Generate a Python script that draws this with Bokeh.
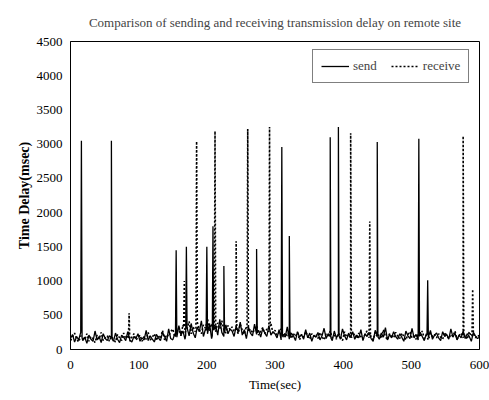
import numpy as np
from bokeh.plotting import figure
from bokeh.models import Range1d, Legend, LegendItem, FixedTicker
from bokeh.embed import file_html
from bokeh.resources import INLINE

# ---------------- data ----------------
title_text = "Comparison of sending and receiving transmission delay on remote site"
base_t = list(range(0, 601, 3))  # seconds
send_base = [160, 220, 110, 190, 140, 250, 130, 180, 90, 210, 150, 120, 270, 140, 190, 100, 230, 160, 130, 200,
             170, 120, 240, 150, 100, 210, 180, 130, 260, 140, 110, 190, 160, 230, 120, 170, 140, 280, 130, 200,
             150, 110, 220, 170, 130, 250, 190, 120, 300, 160, 140, 230, 180, 350, 210, 270, 150, 320, 200, 380,
             240, 170, 330, 260, 420, 190, 300, 230, 380, 160, 280, 350, 210, 440, 250, 190, 360, 230, 300, 270,
             190, 340, 250, 400, 210, 290, 160, 330, 240, 200, 370, 220, 280, 180, 310, 240, 190, 350, 210, 260,
             230, 170, 290, 140, 220, 180, 330, 150, 240, 200, 130, 260, 180, 220, 150, 290, 170, 240, 120, 210,
             180, 250, 140, 200, 310, 160, 230, 190, 130, 270, 170, 220, 150, 300, 200, 140, 240, 180, 260, 150,
             210, 170, 290, 130, 230, 190, 250, 160, 120, 280, 200, 150, 240, 180, 320, 140, 220, 170, 260, 190,
             150, 230, 180, 120, 270, 200, 160, 310, 170, 220, 140, 250, 190, 130, 230, 180, 280, 150, 210, 240,
             170, 130, 260, 190, 220, 150, 300, 180, 240, 140, 210, 170, 270, 160, 230, 190, 120, 250, 200, 160,
             180]
recv_base = [130, 180, 240, 150, 110, 200, 170, 140, 230, 120, 190, 160, 100, 210, 150, 250, 130, 170, 200, 120,
             190, 150, 110, 220, 170, 130, 240, 160, 200, 120, 180, 230, 140, 170, 210, 120, 190, 150, 250, 140,
             180, 230, 130, 200, 160, 280, 140, 220, 190, 260, 300, 180, 240, 310, 200, 360, 250, 300, 410, 230,
             330, 260, 400, 290, 230, 360, 310, 450, 270, 380, 320, 260, 390, 300, 420, 280, 240, 350, 290, 330,
             260, 310, 230, 370, 280, 220, 340, 260, 300, 240, 290, 350, 210, 270, 320, 230, 300, 260, 380, 240,
             280, 210, 250, 300, 180, 240, 200, 270, 160, 230, 190, 250, 140, 220, 180, 260, 200, 150, 230, 190,
             220, 160, 250, 190, 140, 230, 200, 270, 170, 210, 150, 240, 190, 130, 260, 180, 220, 160, 200, 230,
             160, 240, 190, 150, 220, 270, 170, 200, 140, 250, 180, 220, 160, 290, 190, 140, 230, 200, 170, 250,
             200, 160, 240, 190, 140, 220, 260, 170, 200, 150, 230, 180, 270, 160, 210, 140, 240, 190, 220, 170,
             230, 180, 150, 250, 200, 160, 220, 190, 270, 150, 200, 240, 170, 210, 150, 260, 190, 230, 170, 210,
             190]

send_spike_t = [16, 60, 155, 170, 200, 209, 225, 273, 310, 321, 381, 393, 450, 511, 524]
send_spike_v = [3050, 3050, 1450, 1500, 1500, 1800, 1220, 1470, 2960, 1660, 3100, 3250, 3030, 3080, 1010]

recv_spike_t = [86, 167, 185, 212, 243, 260, 292, 411, 439, 576, 590]
recv_spike_v = [530, 1000, 3040, 3190, 1580, 3220, 3250, 3160, 1870, 3120, 880]

x_ticks = [0, 100, 200, 300, 400, 500, 600]
y_ticks = [0, 500, 1000, 1500, 2000, 2500, 3000, 3500, 4000, 4500]


def build(bt, bv, st, sv):
    bt = np.asarray(bt, float)
    bv = np.asarray(bv, float)
    xs = list(bt)
    ys = list(bv)
    for t, v in zip(st, sv):
        for dt, val in ((-1.0, np.interp(t - 1.0, bt, bv)), (0.0, v), (1.0, np.interp(t + 1.0, bt, bv))):
            xs.append(t + dt)
            ys.append(val)
    order = np.argsort(xs, kind="stable")
    return np.asarray(xs)[order], np.asarray(ys)[order]


sx, sy = build(base_t, send_base, send_spike_t, send_spike_v)
rx, ry = build(base_t, recv_base, recv_spike_t, recv_spike_v)

# ---------------- figure ----------------
FONT = "Liberation Serif"
p = figure(width=489, height=400, output_backend="svg", toolbar_location=None,
           x_range=Range1d(0, 600), y_range=Range1d(0, 4500),
           min_border_left=70, min_border_right=10, min_border_top=41, min_border_bottom=51)
p.background_fill_color = "white"
p.border_fill_color = "white"
p.outline_line_color = "black"
p.outline_line_width = 1
p.grid.visible = False

p.title.text = title_text
p.title.text_font = FONT
p.title.text_font_size = "13px"
p.title.text_font_style = "normal"
p.title.align = "center"
p.title.vertical_align = "top"
p.title.offset = 0
p.title.standoff = 20

r_recv = p.line(rx, ry, line_color="black", line_width=1.6, line_dash="2 2")
r_send = p.line(sx, sy, line_color="black", line_width=1.3)

for ax in (p.xaxis[0], p.yaxis[0]):
    ax.major_tick_line_color = None
    ax.minor_tick_line_color = None
    ax.major_tick_out = 0
    ax.major_tick_in = 0
    ax.minor_tick_out = 0
    ax.minor_tick_in = 0
    ax.axis_line_color = "black"
    ax.major_label_text_font = FONT
    ax.major_label_text_font_size = "13px"
    ax.major_label_text_color = "black"
    ax.axis_label_text_font = FONT
    ax.axis_label_text_font_size = "13px"
    ax.axis_label_text_color = "black"

p.xaxis.ticker = FixedTicker(ticks=x_ticks)
p.yaxis.ticker = FixedTicker(ticks=y_ticks)
p.xaxis.major_label_standoff = 11
p.yaxis.major_label_standoff = 8
p.xaxis.axis_label = "Time(sec)"
p.xaxis.axis_label_standoff = 5
p.xaxis.axis_label_text_font_style = "normal"
p.yaxis.axis_label = "Time Delay(msec)"
p.yaxis.axis_label_standoff = 2
p.yaxis.axis_label_text_font_size = "14px"
p.yaxis.axis_label_text_font_style = "bold"

legend = Legend(items=[LegendItem(label="send", renderers=[r_send]),
                       LegendItem(label="receive", renderers=[r_recv])],
                orientation="horizontal", location=(242, 266))
legend.label_text_font = FONT
legend.label_text_font_size = "13px"
legend.glyph_width = 28
legend.glyph_height = 12
legend.label_standoff = 4
legend.spacing = 14
legend.padding = 8
legend.margin = 0
legend.border_line_color = "black"
legend.border_line_width = 1
legend.background_fill_alpha = 1
p.add_layout(legend, "center")

open("out.html", "w").write(file_html(p, INLINE))
